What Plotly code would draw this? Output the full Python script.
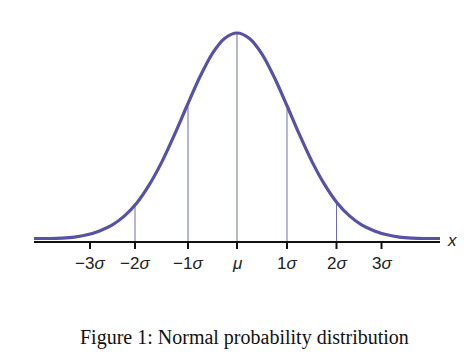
import plotly.graph_objects as go

# ---- data (x in sigma units, y as fraction of peak height) ----
curve_x = [-4.06, -4.0, -3.75, -3.5, -3.25, -3.0, -2.75, -2.5, -2.25, -2.0, -1.75, -1.5, -1.25,
           -1.0, -0.75, -0.5, -0.25, 0.0, 0.25, 0.5, 0.75, 1.0, 1.25, 1.5, 1.75, 2.0,
           2.25, 2.5, 2.75, 3.0, 3.25, 3.5, 3.75, 4.0, 4.06]
curve_y = [0.0, 0.0, 0.0, 0.002, 0.007, 0.018, 0.037, 0.065, 0.110, 0.174, 0.263, 0.374, 0.505,
           0.646, 0.782, 0.897, 0.973, 1.0, 0.973, 0.897, 0.782, 0.646, 0.505, 0.374, 0.263, 0.174,
           0.110, 0.065, 0.037, 0.018, 0.007, 0.002, 0.0, 0.0, 0.0]

tick_pos = [-2.94, -2.04, -0.98, 0.0, 1.0, 1.99, 2.89]
tick_labels = ["−3<i>σ</i>", "−2<i>σ</i>", "−1<i>σ</i>", "<i>μ</i>", "1<i>σ</i>", "2<i>σ</i>", "3<i>σ</i>"]

vline_pos = [-2.04, -0.98, 0.0, 1.0, 1.99]
vline_top = [0.17, 0.64, 1.0, 0.63, 0.18]

caption = "Figure 1: Normal probability distribution"
axis_label = "x"

# ---- styling / layout constants ----
AXIS_Y = -0.017
TICK_BOTTOM = -0.051
LABEL_Y = -0.124
X_RANGE = [-237 / 50, (468 - 237) / 50]
Y_RANGE = [-(356 - 238.5) / 205.5, 238.5 / 205.5]

fig = go.Figure()

# vertical guide lines
vx, vy = [], []
for p, t in zip(vline_pos, vline_top):
    vx += [p, p, None]
    vy += [AXIS_Y, t, None]
fig.add_trace(go.Scatter(x=vx, y=vy, mode="lines", line=dict(color="#6e6ab4", width=1),
                         hoverinfo="skip", showlegend=False))

# axis line
fig.add_trace(go.Scatter(x=[curve_x[0], curve_x[-1]], y=[AXIS_Y, AXIS_Y], mode="lines",
                         line=dict(color="#111111", width=2), hoverinfo="skip", showlegend=False))

# ticks
tx, ty = [], []
for p in tick_pos:
    tx += [p, p, None]
    ty += [AXIS_Y, TICK_BOTTOM, None]
fig.add_trace(go.Scatter(x=tx, y=ty, mode="lines", line=dict(color="#111111", width=2),
                         hoverinfo="skip", showlegend=False))

# normal curve
fig.add_trace(go.Scatter(x=curve_x, y=curve_y, mode="lines",
                         line=dict(color="#5652a6", width=3.2, shape="spline", smoothing=0.8),
                         hoverinfo="skip", showlegend=False))

# tick labels
for p, lab in zip(tick_pos, tick_labels):
    fig.add_annotation(x=p, y=LABEL_Y, text=lab, showarrow=False, xanchor="center", yanchor="middle",
                       font=dict(family="Liberation Sans, Arial, sans-serif", size=17, color="#222222"))

# axis label
fig.add_annotation(x=4.3, y=-0.012, text="<i>" + axis_label + "</i>", showarrow=False,
                   xanchor="center", yanchor="middle",
                   font=dict(family="Liberation Sans, Arial, sans-serif", size=17, color="#222222"))

# caption
fig.add_annotation(x=244.5 / 468, y=1 - 337 / 356, xref="paper", yref="paper", text=caption,
                   showarrow=False, xanchor="center", yanchor="middle",
                   font=dict(family="Liberation Serif, DejaVu Serif, serif", size=20, color="#111111"))

fig.update_layout(
    width=468, height=356,
    margin=dict(l=0, r=0, t=0, b=0),
    paper_bgcolor="white", plot_bgcolor="white",
    xaxis=dict(range=X_RANGE, visible=False, fixedrange=True),
    yaxis=dict(range=Y_RANGE, visible=False, fixedrange=True),
    showlegend=False,
)

fig.write_html("out.html", config={"displayModeBar": False},
               post_script="document.body.style.margin='0';document.body.style.padding='0';")
